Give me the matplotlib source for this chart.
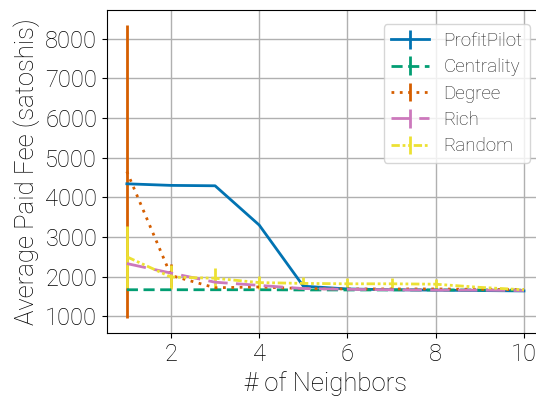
import numpy as np
import matplotlib
matplotlib.use("Agg")
import matplotlib.pyplot as plt
import seaborn as sns

neighbors = [1, 2, 3, 4, 5, 6, 7, 8, 9, 10]

profitpilot = [4340, 4300, 4290, 3300, 1760, 1690, 1670, 1660, 1650, 1640]
profitpilot_err = [0, 0, 0, 0, 0, 0, 0, 0, 0, 0]
centrality = [1670, 1670, 1670, 1670, 1665, 1665, 1665, 1665, 1665, 1660]
centrality_err = [0, 0, 0, 0, 0, 0, 0, 0, 0, 0]
degree = [4650, 2030, 1720, 1740, 1700, 1690, 1690, 1690, 1680, 1670]
degree_err = [3700, 280, 0, 0, 0, 0, 0, 0, 0, 0]
rich = [2330, 2090, 1860, 1780, 1700, 1680, 1670, 1660, 1660, 1650]
rich_err = [0, 0, 0, 0, 0, 0, 0, 0, 0, 0]
rand = [2500, 1990, 1960, 1850, 1830, 1820, 1820, 1810, 1730, 1670]
rand_err = [780, 300, 250, 170, 150, 140, 140, 140, 0, 0]

pal = sns.color_palette("colorblind")

plt.rcParams["font.family"] = ["Roboto", "DejaVu Sans"]
plt.rcParams["font.weight"] = "light"
plt.rcParams["axes.labelweight"] = "light"

fig = plt.figure(figsize=(5.36, 4.0), dpi=100)
ax = fig.add_axes([0.1996, 0.1675, 0.815, 0.8075])

series = [
    (profitpilot, profitpilot_err, "ProfitPilot", pal[0], "-"),
    (centrality, centrality_err, "Centrality", pal[2], (0, (4, 2))),
    (degree, degree_err, "Degree", pal[3], (0, (1, 2))),
    (rich, rich_err, "Rich", pal[4], (0, (7, 3))),
    (rand, rand_err, "Random", pal[8], (0, (3, 1, 1, 1, 1, 1))),
]
for ys, err, lab, col, ls in series:
    ax.errorbar(neighbors, ys, yerr=err, label=lab, color=col, ls=ls, lw=2)

ax.set_xticks([2, 4, 6, 8, 10])
ax.set_yticks(range(1000, 9000, 1000))
ax.tick_params(labelsize=17)
ax.set_xlabel("# of Neighbors", fontsize=18.5)
ax.set_ylabel("Average Paid Fee (satoshis)", fontsize=18.5)
ax.grid(True, color="#b0b0b0", lw=1)
ax.set_axisbelow(True)
leg = ax.legend(loc="upper right", bbox_to_anchor=(0.99, 0.985), fontsize=13.5,
                labelspacing=0.45)
for t in leg.get_texts():
    t.set_color("#222222")

fig.savefig("out.png", dpi=100)
